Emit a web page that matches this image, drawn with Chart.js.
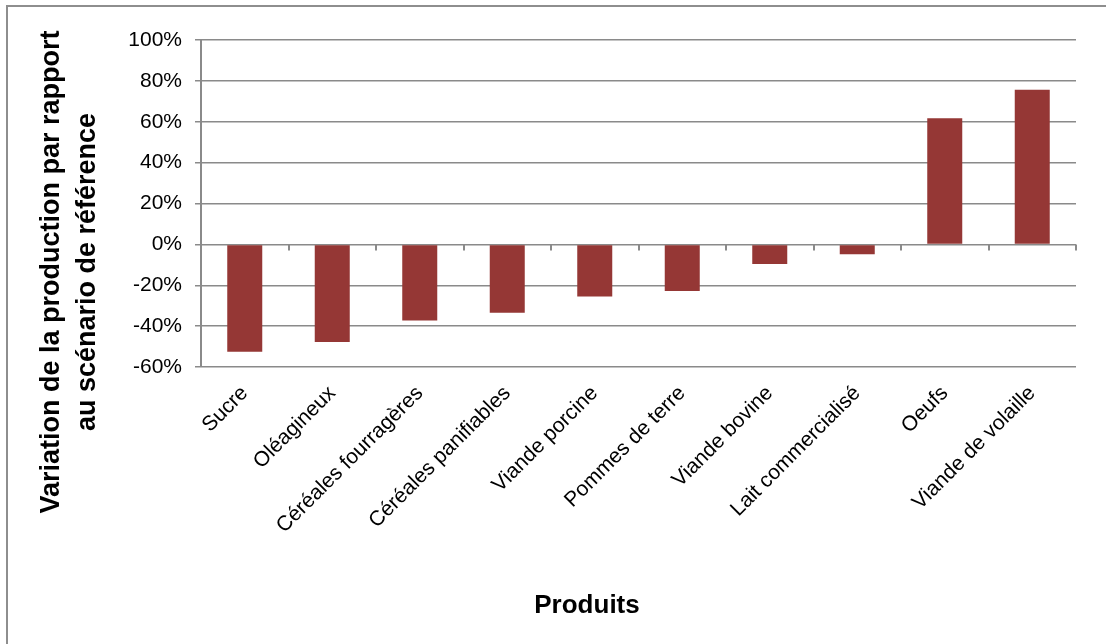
<!DOCTYPE html>
<html lang="fr">
<head>
<meta charset="utf-8">
<script src="https://cdn.jsdelivr.net/npm/chart.js@4/dist/chart.umd.min.js"></script>
<style>
  html, body { margin: 0; padding: 0; background: #fff; overflow: hidden; }
  #frame {
    position: absolute; left: 6px; top: 5px; width: 2000px; height: 2000px;
    border-left: 2px solid #8e8e8e; border-top: 2px solid #8e8e8e;
  }
  #wrap { position: absolute; left: 0; top: 0; width: 1106px; height: 644px; }
</style>
</head>
<body>
<div id="frame"></div>
<div id="wrap"><canvas id="chart"></canvas></div>
<script>
// Données
const produits = [
  "Sucre", "Oléagineux", "Céréales fourragères", "Céréales panifiables",
  "Viande porcine", "Pommes de terre", "Viande bovine", "Lait commercialisé",
  "Oeufs", "Viande de volaille"
];
const variation = [-52.5, -47.8, -37.3, -33.4, -25.5, -22.8, -9.6, -4.8, 61.7, 75.6];
const yMin = -60, yMax = 100, yStep = 20;
const titreY = ["Variation de la production par rapport", "au scénario de référence"];
const titreX = "Produits";

Chart.defaults.font.family = "'Liberation Sans', Arial, sans-serif";
Chart.defaults.color = "#000";

// petits traits de graduation sur la ligne du 0 + titres des axes
const axesExtras = {
  id: "axesExtras",
  afterDraw(chart) {
    const { ctx, scales: { x, y } } = chart;
    const y0 = y.getPixelForValue(0);
    ctx.save();
    ctx.strokeStyle = "#8a8a8a";
    ctx.lineWidth = 2;
    for (let i = 0; i <= produits.length; i++) {
      const px = Math.round(x.getPixelForValue(i - 0.5));
      ctx.beginPath();
      ctx.moveTo(px, y0);
      ctx.lineTo(px, y0 + 6);
      ctx.stroke();
    }
    ctx.fillStyle = "#000";
    ctx.font = "bold 27px 'Liberation Sans', Arial, sans-serif";
    ctx.textAlign = "center";
    ctx.textBaseline = "middle";
    titreY.forEach((t, i) => {
      ctx.save();
      ctx.translate(52 + i * 36, 272);
      ctx.rotate(-Math.PI / 2);
      ctx.fillText(t, 0, 0);
      ctx.restore();
    });
    ctx.font = "bold 26px 'Liberation Sans', Arial, sans-serif";
    ctx.fillText(titreX, 587, 606);
    ctx.restore();
  }
};

const ctx = document.getElementById("chart").getContext("2d");
new Chart(ctx, {
  type: "bar",
  data: {
    labels: produits,
    datasets: [{
      data: variation,
      backgroundColor: "#953735",
      borderWidth: 0,
      barPercentage: 0.4,
      categoryPercentage: 1
    }]
  },
  options: {
    responsive: true,
    maintainAspectRatio: false,
    animation: false,
    layout: { padding: { top: 40, right: 30, bottom: 0, left: 0 } },
    plugins: {
      legend: { display: false },
      tooltip: { enabled: false }
    },
    scales: {
      x: {
        afterFit: s => { s.height = 277; },
        grid: { display: false, drawTicks: false },
        border: { display: false },
        ticks: {
          autoSkip: false,
          minRotation: 45,
          maxRotation: 45,
          padding: 14,
          font: { size: 21 },
          color: "#000"
        }
      },
      y: {
        min: yMin,
        max: yMax,
        afterFit: s => { s.width = 201; },
        grid: { color: "#8a8a8a", lineWidth: 1.5, tickLength: 6 },
        border: { color: "#8a8a8a", width: 2 },
        ticks: {
          stepSize: yStep,
          padding: 13,
          font: { size: 21 },
          color: "#000",
          callback: v => v + "%"
        }
      }
    }
  },
  plugins: [axesExtras]
});
</script>
</body>
</html>
